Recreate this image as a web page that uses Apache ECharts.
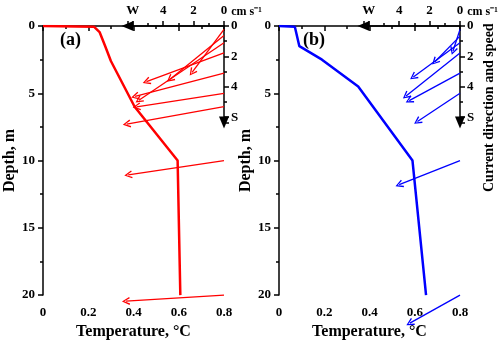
<!DOCTYPE html>
<html lang="en">
<head>
    <meta charset="UTF-8">
    <title>Temperature and current profiles</title>
    <script src="https://cdn.jsdelivr.net/npm/echarts@6/dist/echarts.min.js" type="text/javascript"></script>
    <style>
        html, body { margin: 0; padding: 0; background: #fff; }
        #chart { width: 500px; height: 345px; }
    </style>
</head>
<body>
<div id="chart"></div>

<script type="text/javascript">
    // temperature profiles (°C vs depth, m)
    var tempA  = [0, 0.225, 0.25, 0.275, 0.30, 0.405, 0.595, 0.607];
    var depthA = [0, 0.05, 0.45, 1.5, 2.6, 6.0, 10, 20];
    var tempB  = [0, 0.07, 0.09, 0.19, 0.35, 0.59, 0.65];
    var depthB = [0, 0.05, 1.5, 2.5, 4.5, 10, 20];

    // currents: depth of the measurement, westward and southward parts (cm s-1)
    var curDepthA = [0.25, 0.7, 1.25, 2, 3.5, 5, 6, 10, 20];
    var westA     = [2.1, 3.55, 5.6, 5.1, 5.85, 5.75, 6.4, 6.3, 6.45];
    var southA    = [2.85, 2.9, 3.8, 1.9, 1.55, 0.9, 1.15, 0.95, 0.4];
    var curDepthB = [0.25, 0.75, 1.25, 2, 3.5, 5, 10, 20];
    var westB     = [0.46, 1.65, 3.07, 3.55, 3.34, 2.8, 4.0, 3.3];
    var southB    = [1.43, 1.7, 2.26, 2.85, 1.82, 1.87, 1.6, 1.86];

    var tempTicks = [0, 0.2, 0.4, 0.6, 0.8];

    var TEMP_MAX = 0.8, DEPTH_MAX = 20;
    var GRID_W = 181, GRID_H = 271, GRID_TOP = 26;
    var LEFT_A = 43, LEFT_B = 279;
    var CMS_PX = 15.2;     // pixels per cm s-1 on the current scale
    var CUR_MAX = 6.35;
    var KX = CMS_PX * TEMP_MAX / GRID_W;
    var KY = CMS_PX * DEPTH_MAX / GRID_H;
    var INSET = CUR_MAX * CMS_PX;

    var FONT = 'Liberation Serif';
    var black = { color: '#000', width: 1.5 };
    var chevron = 'path://M0,10 L5,0 L10,10 L8.4,10.8 L5,3.2 L1.6,10.8 Z';

    function pairs(xs, ys) {
        return xs.map(function (x, i) { return [x, ys[i]]; });
    }
    function arrows(depths, west, south) {
        return depths.map(function (d, i) {
            return { coords: [[TEMP_MAX, d], [TEMP_MAX - west[i] * KX, d + south[i] * KY]] };
        });
    }

    function mainX(idx) {
        return {
            gridIndex: idx, type: 'value', min: 0, max: TEMP_MAX, interval: 0.2,
            name: 'Temperature, °C', nameLocation: 'middle', nameGap: 28,
            nameTextStyle: { fontFamily: FONT, fontWeight: 'bold', fontSize: 16, color: '#000' },
            axisLine: { lineStyle: black },
            axisTick: { length: 5, lineStyle: black },
            minorTick: { show: true, splitNumber: 2, length: 3, lineStyle: black },
            splitLine: { show: false },
            axisLabel: {
                fontFamily: FONT, fontWeight: 'bold', fontSize: 13, color: '#000', margin: 11,
                showMinLabel: true,
                formatter: function (v) { return tempTicks.indexOf(v) >= 0 ? String(v) : ''; }
            }
        };
    }
    function mainY(idx) {
        return {
            gridIndex: idx, type: 'value', min: 0, max: DEPTH_MAX, interval: 5, inverse: true,
            name: 'Depth, m', nameLocation: 'middle', nameGap: 22,
            nameTextStyle: { fontFamily: FONT, fontWeight: 'bold', fontSize: 16, color: '#000' },
            axisLine: { lineStyle: black },
            axisTick: { length: 5, lineStyle: black },
            minorTick: { show: true, splitNumber: 2, length: 3, lineStyle: black },
            splitLine: { show: false },
            axisLabel: { fontFamily: FONT, fontWeight: 'bold', fontSize: 13, color: '#000', margin: 8, showMinLabel: true }
        };
    }
    function insetX(idx) {
        return {
            gridIndex: idx, type: 'value', position: 'top', inverse: true,
            min: 0, max: CUR_MAX, interval: 2,
            name: 'cm s⁻¹', nameLocation: 'start', nameGap: 4,
            nameTextStyle: {
                fontFamily: FONT, fontWeight: 'bold', fontSize: 12, color: '#000',
                verticalAlign: 'bottom', padding: [0, 0, 8, 0]
            },
            axisLine: { lineStyle: black, symbol: ['triangle', 'none'], symbolSize: [10, 12] },
            axisTick: { length: 5, lineStyle: black },
            minorTick: { show: true, splitNumber: 2, length: 3, lineStyle: black },
            splitLine: { show: false },
            axisLabel: {
                fontFamily: FONT, fontWeight: 'bold', fontSize: 13, color: '#000', margin: 9,
                showMinLabel: true, showMaxLabel: false,
                formatter: function (v) { return v === 6 ? 'W' : String(v); }
            }
        };
    }
    function insetY(idx) {
        return {
            gridIndex: idx, type: 'value', position: 'right', inverse: true,
            min: 0, max: CUR_MAX, interval: 2,
            axisLine: { lineStyle: black, symbol: ['triangle', 'none'], symbolSize: [10, 12] },
            axisTick: { length: 5, lineStyle: black },
            minorTick: { show: true, splitNumber: 2, length: 3, lineStyle: black },
            splitLine: { show: false },
            axisLabel: {
                fontFamily: FONT, fontWeight: 'bold', fontSize: 13, color: '#000', margin: 7,
                showMinLabel: true, showMaxLabel: false,
                formatter: function (v) { return v === 6 ? 'S' : String(v); }
            }
        };
    }

    function profile(idx, data, color) {
        return {
            type: 'line', xAxisIndex: idx, yAxisIndex: idx, data: data,
            showSymbol: false, symbol: 'none', animation: false, z: 3,
            lineStyle: { color: color, width: 2.5 }
        };
    }
    function currents(idx, data, color) {
        return {
            type: 'lines', coordinateSystem: 'cartesian2d', xAxisIndex: idx, yAxisIndex: idx,
            data: data, clip: false, animation: false, z: 4,
            symbol: ['none', chevron], symbolSize: [7, 8],
            lineStyle: { color: color, width: 1.3, opacity: 1, curveness: 0 },
            itemStyle: { color: color }
        };
    }

    var chart = echarts.init(document.getElementById('chart'));
    chart.setOption({
        animation: false,
        backgroundColor: '#fff',
        title: [
            { text: '(a)', left: 55, top: 26, textStyle: { fontFamily: FONT, fontWeight: 'bold', fontSize: 18, color: '#000' } },
            { text: '(b)', left: 298, top: 26, textStyle: { fontFamily: FONT, fontWeight: 'bold', fontSize: 18, color: '#000' } }
        ],
        grid: [
            { left: LEFT_A, top: GRID_TOP, width: GRID_W, height: GRID_H },
            { left: LEFT_B, top: GRID_TOP, width: GRID_W, height: GRID_H },
            { left: LEFT_A + GRID_W - INSET, top: GRID_TOP, width: INSET, height: INSET },
            { left: LEFT_B + GRID_W - INSET, top: GRID_TOP, width: INSET, height: INSET }
        ],
        xAxis: [mainX(0), mainX(1), insetX(2), insetX(3)],
        yAxis: [mainY(0), mainY(1), insetY(2), insetY(3)],
        graphic: [{
            type: 'text', x: 482, y: 192, rotation: Math.PI / 2,
            style: { text: 'Current direction and speed', fontFamily: FONT, fontWeight: 'bold', fontSize: 14, fill: '#000' }
        }],
        series: [
            profile(0, pairs(tempA, depthA), '#ff0000'),
            profile(1, pairs(tempB, depthB), '#0000ff'),
            currents(0, arrows(curDepthA, westA, southA), '#ff0000'),
            currents(1, arrows(curDepthB, westB, southB), '#0000ff'),
            { type: 'scatter', xAxisIndex: 2, yAxisIndex: 2, data: [] },
            { type: 'scatter', xAxisIndex: 3, yAxisIndex: 3, data: [] }
        ]
    });
</script>
</body>
</html>
